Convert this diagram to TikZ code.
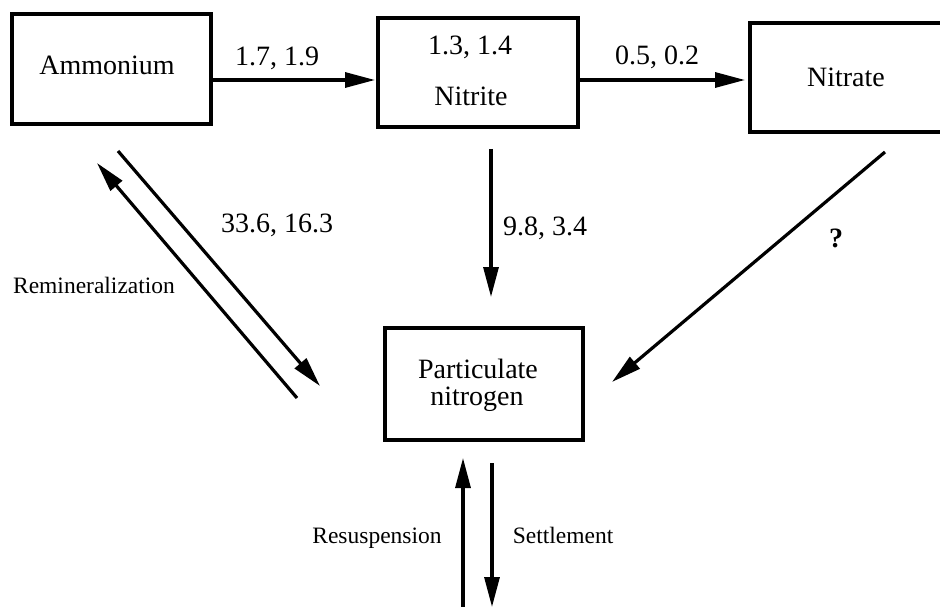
\documentclass[tikz,border=0pt]{standalone}
\usepackage{fontspec}
\setmainfont{Liberation Serif}
\usetikzlibrary{arrows.meta}
\begin{document}
\begin{tikzpicture}[x=1pt,y=-1pt,
  pool/.style={draw,line width=3.2pt,rectangle,inner sep=0pt},
  big/.style={font=\fontsize{28}{27}\selectfont,inner sep=0pt,anchor=base},
  small/.style={font=\fontsize{23.5}{26}\selectfont,inner sep=0pt,anchor=base},
  flow/.style={line width=3.2pt,-{Triangle[length=30pt,width=15pt]}}]
\useasboundingbox (0,0) rectangle (940,607);

% compartments
\node[pool,minimum width=199pt,minimum height=110pt] (amm) at (111.5,69) {};
\node[pool,minimum width=200pt,minimum height=109pt] (nitrite) at (478,72.5) {};
\node[pool,minimum width=200pt,minimum height=109pt] (nitrate) at (850,77.5) {};
\node[pool,minimum width=198pt,minimum height=112pt] (pn) at (484,384) {};

% compartment names
\node[big] (tamm) at (107,75) {Ammonium};
\node[big] (tnitval) at (470,55) {1.3, 1.4};
\node[big] (tnit) at (471,106) {Nitrite};
\node[big] (tnat) at (846,87) {Nitrate};
\node[big] (tpn1) at (478,378) {Particulate};
\node[big] (tpn2) at (477,405) {nitrogen};

% flux labels
\node[big] (l1) at (277,66) {1.7, 1.9};
\node[big] (l2) at (657,65) {0.5, 0.2};
\node[big] (l3) at (277,232) {33.6, 16.3};
\node[big] (l4) at (545,235) {9.8, 3.4};
\node[big] (l5) at (836,247) {\textbf{?}};
\node[small] (l6) at (94,293) {Remineralization};
\node[small] (l7) at (377,543) {Resuspension};
\node[small] (l8) at (563,543) {Settlement};

% arrow end points
\coordinate (a1s) at (211,80);  \coordinate (a1e) at (375,80);
\coordinate (a2s) at (580,80);  \coordinate (a2e) at (745,80);
\coordinate (a3s) at (491,149); \coordinate (a3e) at (491,297);
\coordinate (a4s) at (885,152); \coordinate (a4e) at (612,382);
\coordinate (a5s) at (118,151); \coordinate (a5e) at (320,386);
\coordinate (a6s) at (297,398); \coordinate (a6e) at (97,163);
\coordinate (a7s) at (463,607); \coordinate (a7e) at (463,458);
\coordinate (a8s) at (492,463); \coordinate (a8e) at (492,607);

% fluxes
\draw[flow] (a1s) -- (a1e);
\draw[flow] (a2s) -- (a2e);
\draw[flow] (a3s) -- (a3e);
\draw[flow] (a4s) -- (a4e);
\draw[flow] (a5s) -- (a5e);
\draw[flow] (a6s) -- (a6e);
\draw[flow] (a7s) -- (a7e);
\draw[flow] (a8s) -- (a8e);
\end{tikzpicture}
\end{document}
